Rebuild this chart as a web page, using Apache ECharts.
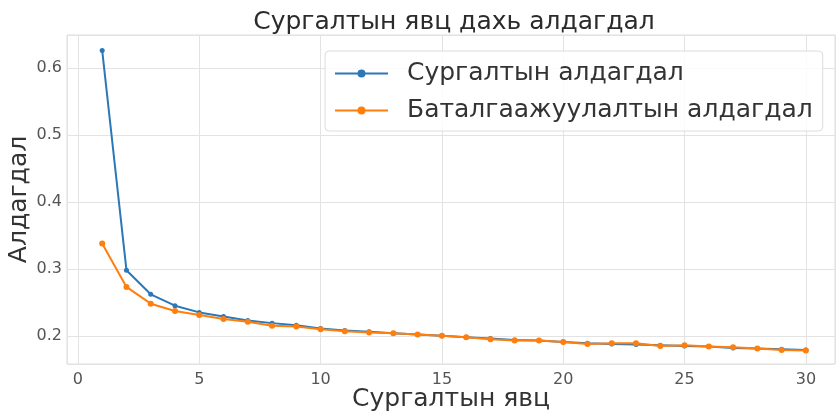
<!DOCTYPE html>
<html>
<head>
<meta charset="utf-8">
<script src="https://cdn.jsdelivr.net/npm/echarts@6/dist/echarts.min.js"></script>
<style>html,body{margin:0;padding:0;background:#fff}#c{width:836px;height:417px}</style>
</head>
<body>
<div id="c"></div>
<script>
const epochs = [1,2,3,4,5,6,7,8,9,10,11,12,13,14,15,16,17,18,19,20,21,22,23,24,25,26,27,28,29,30];
const trainLoss = [0.626,0.298,0.262,0.245,0.235,0.229,0.223,0.219,0.216,0.211,0.208,0.206,0.204,0.202,0.200,0.198,0.196,0.194,0.193,0.191,0.189,0.188,0.187,0.186,0.185,0.184,0.182,0.181,0.180,0.179];
const valLoss = [0.338,0.273,0.248,0.237,0.231,0.225,0.221,0.215,0.214,0.210,0.207,0.205,0.204,0.202,0.200,0.198,0.195,0.193,0.193,0.191,0.188,0.189,0.189,0.185,0.186,0.184,0.183,0.181,0.179,0.178];
const xTicks = [0,5,10,15,20,25,30];
const yTicks = [0.2,0.3,0.4,0.5,0.6];
const seriesNames = ['Сургалтын алдагдал','Баталгаажуулалтын алдагдал'];
const titleText = 'Сургалтын явц дахь алдагдал';
const xName = 'Сургалтын явц';
const yName = 'Алдагдал';

const FONT = 'DejaVu Sans';
const chart = echarts.init(document.getElementById('c'), null, {renderer:'canvas'});
const near = (v, arr) => arr.some(t => Math.abs(t - v) < 1e-6);
chart.setOption({
  backgroundColor:'#fff',
  animation:false,
  title:{text:titleText,left:449,top:5,textAlign:'center',
    textStyle:{fontFamily:FONT,fontSize:25,fontWeight:'normal',color:'#2b2b2b'}},
  legend:{
    orient:'vertical', left:325, top:51,
    padding:[10,10,8,9],
    backgroundColor:'rgba(255,255,255,0.85)',
    borderColor:'#dcdcdc', borderWidth:1, borderRadius:4,
    itemWidth:53, itemHeight:10, itemGap:12,
    textStyle:{fontFamily:FONT,fontSize:25,color:'#333',padding:[0,0,0,14]},
    data:seriesNames
  },
  grid:{left:67,right:1,top:35,bottom:53,show:true,borderColor:'#dcdcdc',borderWidth:1,
    containLabel:false,outerBoundsMode:'none'},
  xAxis:{type:'value',min:-0.45,max:31.2,splitNumber:6,
    name:xName,nameLocation:'middle',nameGap:23,nameMoveOverlap:false,
    nameTextStyle:{fontFamily:FONT,fontSize:25,color:'#333'},
    axisLine:{show:false},
    axisTick:{show:false},
    axisLabel:{fontFamily:FONT,fontSize:16,color:'#555',margin:8,
      formatter:v=>near(v,xTicks)?String(v):''},
    splitLine:{show:true,lineStyle:{color:'#e3e3e3',width:1}}
  },
  yAxis:{type:'value',min:0.158,max:0.649,splitNumber:5,
    name:yName,nameLocation:'middle',nameGap:35,nameMoveOverlap:false,
    nameTextStyle:{fontFamily:FONT,fontSize:25,color:'#333'},
    axisLine:{show:false},
    axisTick:{show:false},
    axisLabel:{fontFamily:FONT,fontSize:16,color:'#555',margin:5,
      formatter:v=>near(v,yTicks)?v.toFixed(1):''},
    splitLine:{show:true,lineStyle:{color:'#e3e3e3',width:1}}
  },
  series:[
    {name:seriesNames[0],type:'line',data:epochs.map((e,i)=>[e,trainLoss[i]]),
      color:'#3d8bc9',symbol:'circle',symbolSize:5,lineStyle:{width:2},
      itemStyle:{color:'#2a78b8'}},
    {name:seriesNames[1],type:'line',data:epochs.map((e,i)=>[e,valLoss[i]]),
      color:'#ff8c2a',symbol:'circle',symbolSize:6,lineStyle:{width:2},
      itemStyle:{color:'#ff7f0e'}}
  ]
});
</script>
</body>
</html>
